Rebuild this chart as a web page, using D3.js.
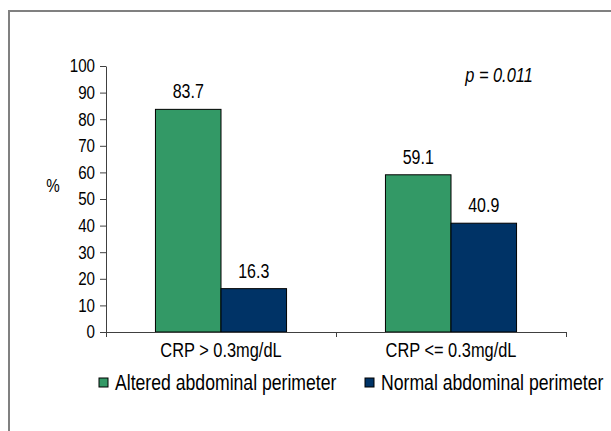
<!DOCTYPE html>
<html>
<head>
<meta charset="utf-8">
<script src="https://cdn.jsdelivr.net/npm/d3@7"></script>
<style>
body { margin: 0; background: #fff; }
text { font-family: "Liberation Sans", Arial, sans-serif; }
</style>
</head>
<body>
<script>
// donnees du graphe
var categories = ["CRP > 0.3mg/dL", "CRP <= 0.3mg/dL"];
var series = ["Altered abdominal perimeter", "Normal abdominal perimeter"];
var altered = [83.7, 59.1];
var normal = [16.3, 40.9];
var yTicks = [0, 10, 20, 30, 40, 50, 60, 70, 80, 90, 100];
var couleurs = ["#339966", "#003366"];

var larg = 611;
var haut = 431;
var police = "'Liberation Sans', Arial, sans-serif";
var serre = 0.82; // police etroite (pas d'Arial Narrow ici)

// comprime le texte en largeur autour de sa position
function serrer(sel) {
	sel.each(function() {
		var t = d3.select(this);
		var x = +t.attr("x") || 0;
		var y = +t.attr("y") || 0;
		t.attr("x", 0).attr("y", 0)
			.attr("transform", "translate(" + x + "," + y + ") scale(" + serre + ",1)");
	});
}

var svg = d3.select("body")
	.append("svg")
	.attr("width", larg)
	.attr("height", haut);

// cadre gris
svg.append("rect")
	.attr("x", 9)
	.attr("y", 11)
	.attr("width", larg + 10)
	.attr("height", haut + 10)
	.attr("fill", "none")
	.attr("stroke", "#808080")
	.attr("stroke-width", 2);

var xScale = d3.scaleBand()
	.domain(categories)
	.range([106, 566])
	.paddingInner(0.43)
	.paddingOuter(0.215);

var xSub = d3.scaleBand()
	.domain(series)
	.range([0, xScale.bandwidth()]);

var yScale = d3.scaleLinear()
	.domain([0, 100])
	.range([332, 66]);

var data = categories.map(function(c, i) {
	return [
		{ cat: c, serie: series[0], val: altered[i] },
		{ cat: c, serie: series[1], val: normal[i] }
	];
});

var groupes = svg.selectAll("g.groupe")
	.data(data)
	.enter()
	.append("g")
	.attr("class", "groupe")
	.attr("transform", function(d, i) { return "translate(" + xScale(categories[i]) + ",0)"; });

groupes.selectAll("rect")
	.data(function(d) { return d; })
	.enter()
	.append("rect")
	.attr("x", function(d) { return xSub(d.serie); })
	.attr("y", function(d) { return yScale(d.val); })
	.attr("width", xSub.bandwidth())
	.attr("height", function(d) { return yScale(0) - yScale(d.val); })
	.attr("fill", function(d, i) { return couleurs[i]; })
	.attr("stroke", "#000")
	.attr("stroke-width", 1);

groupes.selectAll("text")
	.data(function(d) { return d; })
	.enter()
	.append("text")
	.text(function(d) { return d.val.toFixed(1); })
	.attr("x", function(d) { return xSub(d.serie) + xSub.bandwidth() / 2; })
	.attr("y", function(d) { return yScale(d.val) - 11; })
	.attr("text-anchor", "middle")
	.attr("font-size", "19.5px")
	.attr("fill", "#000")
	.call(serrer);

// axe Y
var yAxis = svg.append("g")
	.attr("transform", "translate(106,0)")
	.call(d3.axisLeft(yScale).tickValues(yTicks).tickSize(6).tickSizeOuter(0).tickPadding(5));
yAxis.selectAll("text").attr("font-size", "18.5px").attr("fill", "#000")
	.style("font-family", police)
	.call(serrer);
yAxis.selectAll("line, path").attr("stroke", "#404040");

// axe X : traits aux limites des categories
var xEdge = d3.scaleLinear().domain([0, 2]).range([106, 566]);
var xAxis = svg.append("g")
	.attr("transform", "translate(0,332)")
	.call(d3.axisBottom(xEdge).tickValues([0, 1, 2]).tickFormat("").tickSize(5).tickSizeOuter(0));
xAxis.selectAll("line, path").attr("stroke", "#404040");

var xLabels = svg.append("g")
	.attr("transform", "translate(0,332)")
	.call(d3.axisBottom(xScale).tickSize(0).tickPadding(11));
xLabels.select(".domain").remove();
xLabels.selectAll("text").attr("font-size", "20px").attr("fill", "#000")
	.style("font-family", police)
	.call(serrer);

// titre axe Y
svg.append("text")
	.text("%")
	.attr("x", 53)
	.attr("y", 192)
	.attr("text-anchor", "middle")
	.attr("font-size", "18.5px")
	.call(serrer);

// p value
svg.append("text")
	.text("p = 0.011")
	.attr("x", 499)
	.attr("y", 82)
	.attr("text-anchor", "middle")
	.attr("font-style", "italic")
	.attr("font-size", "20px")
	.call(serrer);

// legende
var legX = [99, 365];
var legende = svg.selectAll("g.leg")
	.data(series)
	.enter()
	.append("g")
	.attr("class", "leg")
	.attr("transform", function(d, i) { return "translate(" + legX[i] + ",378)"; });

legende.append("rect")
	.attr("width", 9)
	.attr("height", 9)
	.attr("fill", function(d, i) { return couleurs[i]; })
	.attr("stroke", "#000")
	.attr("stroke-width", 1);

legende.append("text")
	.text(function(d) { return d; })
	.attr("x", 16)
	.attr("y", 12)
	.attr("font-size", "21.5px")
	.call(serrer);
</script>
</body>
</html>
